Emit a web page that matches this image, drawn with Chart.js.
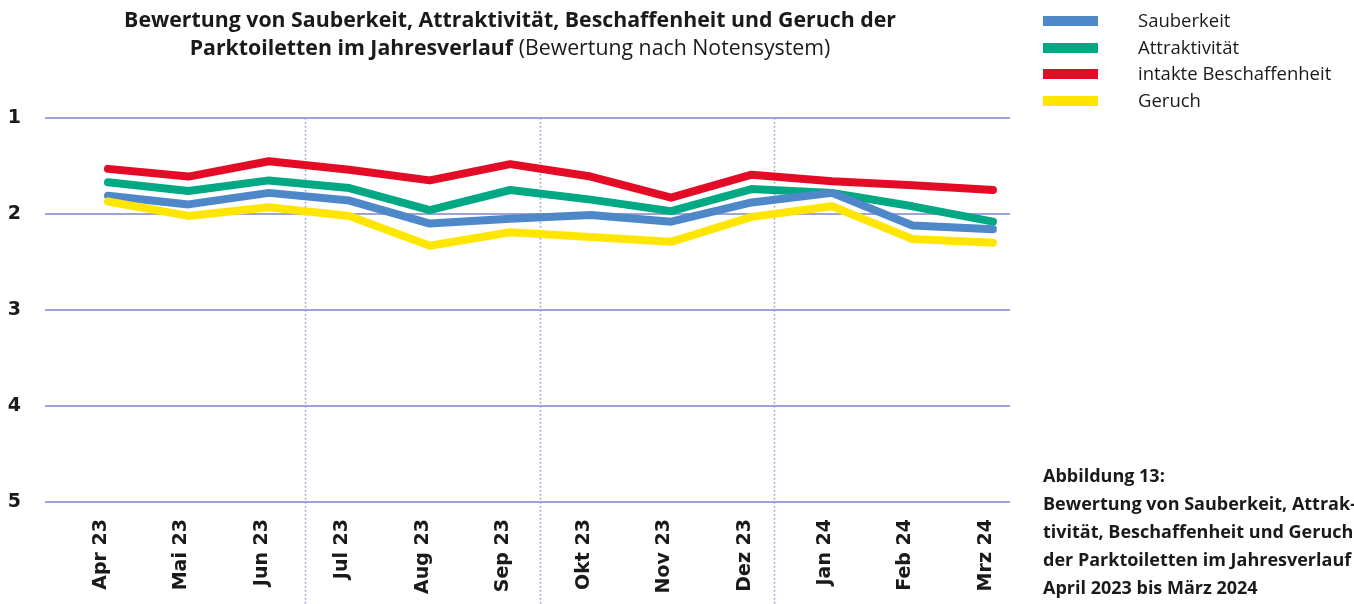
<!DOCTYPE html>
<html>
<head>
<meta charset="utf-8">
<script src="https://cdn.jsdelivr.net/npm/chart.js@4"></script>
<style>
  body { margin: 0; background: #fff; font-family: "Open Sans", "Noto Sans", sans-serif; color: #1a1a1a; }
  #wrap { position: relative; width: 1354px; height: 604px; }
  #chart { position: absolute; left: 0; top: 0; }
  #title { position: absolute; left: 0; top: 5px; width: 1020px; text-align: center; font-size: 21.3px; line-height: 28px; }
  #title b { font-weight: 700; }
  #legend { position: absolute; left: 1043px; top: 8px; font-size: 18.5px; }
  #legend .row { position: relative; height: 26.5px; }
  #legend .box { position: absolute; left: 0; top: 8px; width: 55px; height: 10px; }
  #legend .txt { position: absolute; left: 95px; top: -1px; line-height: 26px; white-space: nowrap; }
  #caption { position: absolute; left: 1043px; top: 461px; font-size: 18px; font-weight: 700; line-height: 28px; white-space: nowrap; }
</style>
</head>
<body>
<div id="wrap">
  <canvas id="chart" width="1354" height="604"></canvas>
  <div id="title"><b>Bewertung von Sauberkeit, Attraktivität, Beschaffenheit und Geruch der<br>Parktoiletten im Jahresverlauf</b> (Bewertung nach Notensystem)</div>
  <div id="legend"></div>
  <div id="caption">Abbildung 13:<br>Bewertung von Sauberkeit, Attrak-<br>tivität, Beschaffenheit und Geruch<br>der Parktoiletten im Jahresverlauf<br>April 2023 bis März 2024</div>
</div>
<script>
var months = ["Apr 23", "Mai 23", "Jun 23", "Jul 23", "Aug 23", "Sep 23", "Okt 23", "Nov 23", "Dez 23", "Jan 24", "Feb 24", "Mrz 24"];
var sauberkeit = [1.81, 1.90, 1.78, 1.86, 2.10, 2.05, 2.01, 2.08, 1.88, 1.78, 2.12, 2.16];
var attraktivitaet = [1.67, 1.76, 1.65, 1.73, 1.96, 1.75, 1.85, 1.97, 1.74, 1.78, 1.92, 2.08];
var beschaffenheit = [1.53, 1.61, 1.45, 1.54, 1.65, 1.48, 1.61, 1.83, 1.59, 1.66, 1.70, 1.75];
var geruch = [1.87, 2.02, 1.93, 2.02, 2.33, 2.19, 2.24, 2.29, 2.03, 1.92, 2.26, 2.30];
var yTicks = [1, 2, 3, 4, 5];

// quarter separators (dotted), in x units
var separators = [2.45, 5.37, 8.28];

function pts(arr) {
    return arr.map(function (v, i) { return { x: i, y: v }; });
}

var series = [
    { label: "Sauberkeit", data: sauberkeit, color: "#4f88c8", order: 2 },
    { label: "Attraktivität", data: attraktivitaet, color: "#00a984", order: 3 },
    { label: "intakte Beschaffenheit", data: beschaffenheit, color: "#e30b25", order: 4 },
    { label: "Geruch", data: geruch, color: "#ffe600", order: 1 }
];

var legendHtml = "";
series.forEach(function (s) {
    legendHtml += '<div class="row"><span class="box" style="background:' + s.color + '"></span><span class="txt">' + s.label + '</span></div>';
});
document.getElementById("legend").innerHTML = legendHtml;

var dottedLines = {
    id: "dottedLines",
    beforeDatasetsDraw: function (chart) {
        var ctx = chart.ctx;
        var x = chart.scales.x;
        ctx.save();
        ctx.strokeStyle = "#8e97cf";
        ctx.lineWidth = 1.5;
        ctx.setLineDash([1.5, 2.5]);
        separators.forEach(function (s) {
            var px = Math.round(x.getPixelForValue(s)) + 0.5;
            ctx.beginPath();
            ctx.moveTo(px, chart.chartArea.top);
            ctx.lineTo(px, chart.height);
            ctx.stroke();
        });
        ctx.restore();
    }
};

var axisFont = { family: "DejaVu Sans", size: 19, weight: "bold" };

var myLineChart = new Chart("chart", {
    type: "line",
    data: {
        datasets: series.map(function (s) {
            return {
                label: s.label,
                data: pts(s.data),
                borderColor: s.color,
                backgroundColor: s.color,
                borderWidth: 8,
                borderCapStyle: "round",
                borderJoinStyle: "round",
                pointRadius: 0,
                tension: 0,
                order: s.order
            };
        })
    },
    options: {
        responsive: false,
        animation: false,
        layout: { padding: { top: 118, right: 344, left: 0, bottom: 0 } },
        plugins: {
            legend: { display: false },
            title: { display: false },
            tooltip: { enabled: false }
        },
        scales: {
            x: {
                type: "linear",
                min: -0.783,
                max: 11.212,
                afterBuildTicks: function (scale) {
                    scale.ticks = months.map(function (m, i) { return { value: i }; });
                },
                afterFit: function (scale) { scale.height = 102; },
                grid: { display: false },
                border: { display: false },
                ticks: {
                    autoSkip: false,
                    minRotation: 90,
                    maxRotation: 90,
                    padding: 9,
                    labelOffset: -7,
                    color: "#1a1a1a",
                    font: axisFont,
                    callback: function (v) { return months[v]; }
                }
            },
            y: {
                reverse: true,
                min: 1,
                max: 5,
                afterBuildTicks: function (scale) {
                    scale.ticks = yTicks.map(function (v) { return { value: v }; });
                },
                afterFit: function (scale) { scale.width = 45; },
                grid: { color: "#9ea4d6", lineWidth: 2, drawTicks: false },
                border: { display: false },
                ticks: {
                    padding: 24,
                    color: "#1a1a1a",
                    font: axisFont
                }
            }
        }
    },
    plugins: [dottedLines]
});
</script>
</body>
</html>
